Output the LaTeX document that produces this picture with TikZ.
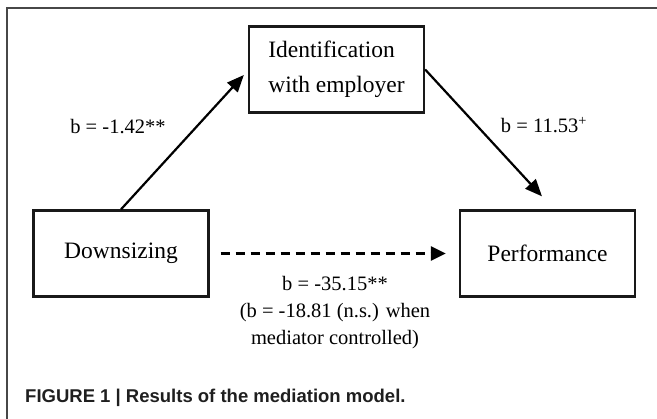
\documentclass[tikz,border=0pt]{standalone}
\usepackage{fontspec}
\setmainfont{Liberation Serif}
\newfontfamily\capfont{Liberation Sans}
\usetikzlibrary{arrows.meta,calc}
\begin{document}
\begin{tikzpicture}[x=1pt,y=-1pt,
  boxnode/.style={draw=black!90, line width=2.3pt, minimum width=175pt, minimum height=86pt, inner sep=0pt, font=\fontsize{23.5}{35}\selectfont, text=black},
  lbl/.style={font=\fontsize{20.5}{27}\selectfont, inner sep=0pt, text=black},
  arr/.style={line width=2.2pt, -{Triangle[length=17pt,width=14pt]}},
]
\useasboundingbox (0,0) rectangle (657,419);
\draw[black!72, line width=1.6pt] (670,8) -- (7,8) -- (7,430);
\node[boxnode, align=left] (ident) at (336.5,69.5) {Identification\\with employer};
\node[boxnode] (down) at (121,253.5) {Downsizing};
\node[boxnode] (perf) at (547.5,253.5) {Performance};
\draw[arr] (down.north) -- ([xshift=-4pt,yshift=-5.5pt]ident.west);
\draw[arr] (ident.east) -- ([xshift=-5.5pt,yshift=13pt]perf.north);
\draw[line width=2.4pt, dash pattern=on 9pt off 6pt, -{Triangle[length=15pt,width=14pt]}, shorten <=11pt, shorten >=13pt] (down.east) -- (perf.west);
\node[lbl] (l1) at (118,127) {b = -1.42**};
\node[lbl] (l2) at (544,125) {b = 11.53\textsuperscript{+}};
\node[lbl, align=center, anchor=north] (l3) at (335,276) {b = -35.15**\\(b = -18.81 (n.s.) when\\mediator controlled)};
\node[font=\capfont\bfseries\fontsize{18.5}{22}\selectfont, anchor=base west, inner sep=0pt, text=black!88] (cap) at (25,403) {FIGURE 1 | Results of the mediation model.};
\end{tikzpicture}
\end{document}
